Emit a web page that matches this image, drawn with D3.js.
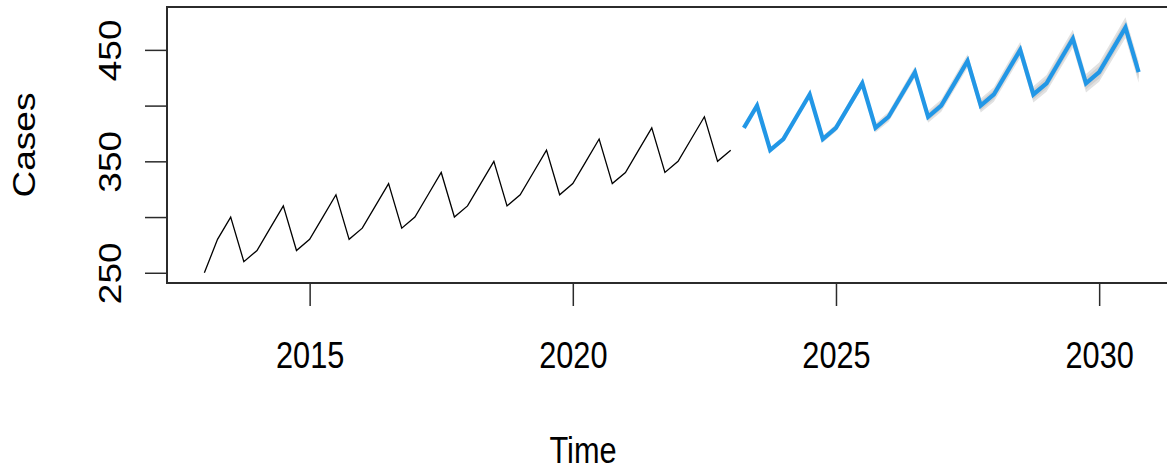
<!DOCTYPE html>
<html>
<head>
<meta charset="utf-8">
<script src="https://cdn.jsdelivr.net/npm/d3@7"></script>
<style>
  html, body { margin: 0; padding: 0; background: #fff; }
  svg { display: block; font-family: "Liberation Sans", Arial, Helvetica, sans-serif; }
</style>
</head>
<body>
<svg id="chart" width="1167" height="471"></svg>
<script>
// Observed quarterly cases, 2013 Q1 .. 2023 Q1
const obsStart = 2013;
const observed = [
  250, 280, 300, 260,
  270, 290, 310, 270,
  280, 300, 320, 280,
  290, 310, 330, 290,
  300, 320, 340, 300,
  310, 330, 350, 310,
  320, 340, 360, 320,
  330, 350, 370, 330,
  340, 360, 380, 340,
  350, 370, 390, 350,
  360
];

// Forecast, 2023 Q2 .. 2030 Q4
const fcStart = 2023.25;
const fcMean = [
            380, 400, 360,
  370, 390, 410, 370,
  380, 400, 420, 380,
  390, 410, 430, 390,
  400, 420, 440, 400,
  410, 430, 450, 410,
  420, 440, 460, 420,
  430, 450, 470, 430
];
const fcLo80 = [379.5, 399.2, 359.0, 368.7, 388.4, 408.2, 368.0, 377.9, 397.7, 417.5, 377.3, 387.1, 406.9, 426.7, 386.6, 396.4, 416.2, 436.1, 395.9, 405.8, 425.6, 445.4, 405.3, 415.1, 434.9, 454.8, 414.6, 424.4, 444.2, 464.0, 423.8];
const fcHi80 = [380.5, 400.8, 361.0, 371.3, 391.6, 411.8, 372.0, 382.1, 402.3, 422.5, 382.7, 392.9, 413.1, 433.3, 393.4, 403.6, 423.8, 443.9, 404.1, 414.2, 434.4, 454.6, 414.7, 424.9, 445.1, 465.2, 425.4, 435.6, 455.8, 476.0, 436.2];
const fcLo95 = [379.2, 398.8, 358.4, 368.0, 387.6, 407.3, 367.0, 376.7, 396.4, 416.1, 375.8, 385.5, 405.2, 425.0, 384.7, 394.5, 414.2, 434.0, 393.7, 403.5, 423.2, 443.0, 402.7, 412.5, 432.2, 452.0, 411.7, 421.4, 441.1, 460.7, 420.4];
const fcHi95 = [380.8, 401.2, 361.6, 372.0, 392.4, 412.7, 373.0, 383.3, 403.6, 423.9, 384.2, 394.5, 414.8, 435.0, 395.3, 405.5, 425.8, 446.0, 406.3, 416.5, 436.8, 457.0, 417.3, 427.5, 447.8, 468.0, 428.3, 438.6, 458.9, 479.3, 439.6];

// Axis ticks
const xTicks = [2015, 2020, 2025, 2030];
const yTicks = [250, 300, 350, 400, 450];
const yTickLabels = [250, 350, 450];

const xLabel = "Time";
const yLabel = "Cases";

// Layout
const plot = { left: 167, right: 1176, top: 7, bottom: 283 };
const fontSize = 37;
const squeeze = 0.83;
const blue = "#2297E6";

const svg = d3.select("#chart");

const obsTime = observed.map((_, i) => obsStart + i / 4);
const fcTime = fcMean.map((_, i) => fcStart + i / 4);

// Both axes padded 4% beyond the data range, as a base ts plot does
const tMin = obsTime[0], tMax = fcTime[fcTime.length - 1];
const tPad = 0.04 * (tMax - tMin);
const vMin = d3.min([d3.min(observed), d3.min(fcLo95)]);
const vMax = d3.max([d3.max(observed), d3.max(fcHi95)]);
const vPad = 0.04 * (vMax - vMin);
const x = d3.scaleLinear().domain([tMin - tPad, tMax + tPad]).range([plot.left, plot.right]);
const y = d3.scaleLinear().domain([vMin - vPad, vMax + vPad]).range([plot.bottom, plot.top]);

const clipId = "plotclip";
svg.append("defs").append("clipPath").attr("id", clipId)
  .append("rect")
  .attr("x", plot.left).attr("y", plot.top)
  .attr("width", plot.right - plot.left).attr("height", plot.bottom - plot.top);

const g = svg.append("g").attr("clip-path", `url(#${clipId})`);

const fc = fcMean.map((m, i) => ({
  t: fcTime[i], m, lo80: fcLo80[i], hi80: fcHi80[i], lo95: fcLo95[i], hi95: fcHi95[i]
}));

// Prediction intervals
g.append("path")
  .datum(fc)
  .attr("fill", "#E2E2E2")
  .attr("d", d3.area().x(d => x(d.t)).y0(d => y(d.lo95)).y1(d => y(d.hi95)));
g.append("path")
  .datum(fc)
  .attr("fill", "#D0D0D0")
  .attr("d", d3.area().x(d => x(d.t)).y0(d => y(d.lo80)).y1(d => y(d.hi80)));

// Observed series
g.append("path")
  .datum(observed.map((v, i) => ({ t: obsTime[i], v })))
  .attr("fill", "none")
  .attr("stroke", "#000")
  .attr("stroke-width", 1.3)
  .attr("stroke-linejoin", "miter")
  .attr("d", d3.line().x(d => x(d.t)).y(d => y(d.v)));

// Point forecast
g.append("path")
  .datum(fc)
  .attr("fill", "none")
  .attr("stroke", blue)
  .attr("stroke-width", 4.2)
  .attr("stroke-linejoin", "miter")
  .attr("d", d3.line().x(d => x(d.t)).y(d => y(d.m)));

// Frame
svg.append("rect")
  .attr("x", plot.left).attr("y", plot.top)
  .attr("width", plot.right - plot.left).attr("height", plot.bottom - plot.top)
  .attr("fill", "none").attr("stroke", "#2b2b2b").attr("stroke-width", 2);

// Bottom axis
const xAxis = svg.append("g")
  .attr("transform", `translate(0,${plot.bottom})`)
  .call(d3.axisBottom(x).tickValues(xTicks).tickSize(23).tickSizeOuter(0).tickFormat(d3.format("d")));
xAxis.select(".domain").remove();
xAxis.selectAll(".tick line").attr("stroke", "#2b2b2b").attr("stroke-width", 1.5);
xAxis.selectAll(".tick text")
  .attr("y", null).attr("dy", null)
  .attr("fill", "#000")
  .attr("font-size", fontSize)
  .attr("font-family", "Liberation Sans, Arial, sans-serif")
  .attr("text-anchor", "middle")
  .attr("transform", `translate(0,${368 - plot.bottom}) scale(${squeeze},1)`);

// Left axis
const yAxis = svg.append("g")
  .attr("transform", `translate(${plot.left},0)`)
  .call(d3.axisLeft(y).tickValues(yTicks).tickSize(22).tickSizeOuter(0)
    .tickFormat(d => yTickLabels.includes(d) ? String(d) : ""));
yAxis.select(".domain").remove();
yAxis.selectAll(".tick line").attr("stroke", "#2b2b2b").attr("stroke-width", 1.5);
yAxis.selectAll(".tick text")
  .attr("x", null).attr("dy", null)
  .attr("fill", "#000")
  .attr("font-size", fontSize)
  .attr("font-family", "Liberation Sans, Arial, sans-serif")
  .attr("text-anchor", "middle")
  .attr("transform", `translate(${121 - plot.left},0) scale(${squeeze},1) rotate(-90)`);

// Axis titles
svg.append("text")
  .attr("transform", `translate(583,463) scale(${squeeze},1)`)
  .attr("text-anchor", "middle")
  .attr("font-size", fontSize)
  .attr("fill", "#000")
  .text(xLabel);

svg.append("text")
  .attr("transform", `translate(35,${(plot.top + plot.bottom) / 2}) scale(${squeeze},1) rotate(-90)`)
  .attr("text-anchor", "middle")
  .attr("font-size", fontSize)
  .attr("fill", "#000")
  .text(yLabel);
</script>
</body>
</html>
